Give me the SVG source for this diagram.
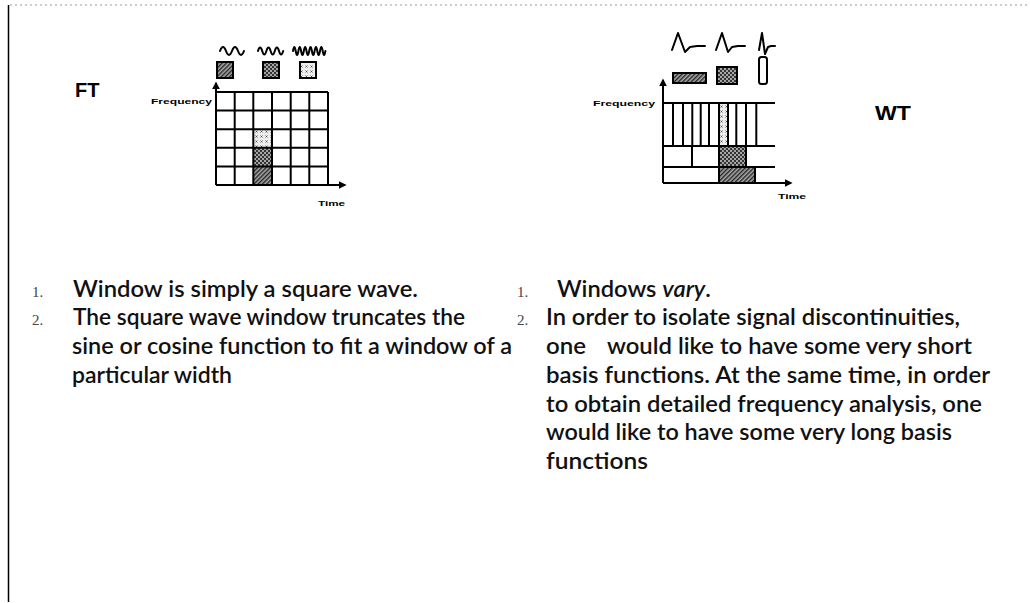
<svg xmlns="http://www.w3.org/2000/svg" width="1030" height="603" viewBox="0 0 1030 603">
<style>
.grid{stroke:#000;stroke-width:2;fill:none}
.axis{stroke:#000;stroke-width:2;fill:none}
.wave{stroke:#000;stroke-width:2;fill:none;stroke-linejoin:round;stroke-linecap:round}
.lbl{font-family:"Liberation Sans",Arial,sans-serif;font-weight:bold;font-size:8px;fill:#000}
.big{font-family:"Liberation Sans",Arial,sans-serif;font-weight:bold;font-size:20px;fill:#000}
.txt{font-family:Lato,"Open Sans",sans-serif;font-size:23px;fill:#111;font-weight:600}
.num{font-family:"Liberation Serif",serif;font-size:15px;fill:#444}
.box{stroke:#000;stroke-width:2}
</style>
<defs>
<pattern id="pDark" width="3" height="3" patternUnits="userSpaceOnUse" patternTransform="rotate(45)"><rect width="3" height="3" fill="#aaa"/><rect width="1.4" height="3" fill="#222"/></pattern>
<pattern id="pMed" width="4" height="4" patternUnits="userSpaceOnUse"><rect width="4" height="4" fill="#333"/><circle cx="1" cy="1" r="0.9" fill="#ddd"/><circle cx="3" cy="3" r="0.9" fill="#ddd"/></pattern>
<pattern id="pLight" width="5" height="5" patternUnits="userSpaceOnUse"><rect width="5" height="5" fill="#eee"/><path d="M0.5,0.5 l2,2 M2.5,0.5 l-2,2" stroke="#333" stroke-width="0.7"/></pattern>
<marker id="arr" viewBox="0 0 10 10" refX="8" refY="5" markerWidth="4" markerHeight="4" orient="auto"><path d="M0,0 L10,5 L0,10 z" fill="#000"/></marker>
</defs>
<rect width="1030" height="603" fill="#fff"/>
<g id="frame">
<line x1="10" y1="5" x2="1030" y2="5" stroke="#999" stroke-width="1" stroke-dasharray="2,3"/>
<line x1="8.5" y1="5" x2="8.5" y2="602" stroke="#000" stroke-width="1.5"/>
</g>

<g id="ft">
<text class="big" x="75" y="97">FT</text>
<path class="wave" d="M220,51 q3,-8 6,0 t6,0 t6,0 t6,0"/>
<path class="wave" d="M258,51 q2.1,-7 4.2,0 t4.2,0 t4.2,0 t4.2,0 t4.2,0 t4.2,0"/>
<path class="wave" d="M293,51 q1.35,-8 2.7,0 t2.7,0 t2.7,0 t2.7,0 t2.7,0 t2.7,0 t2.7,0 t2.7,0 t2.7,0 t2.7,0 t2.7,0 t2.7,0"/>
<rect class="box" x="217" y="62" width="16" height="16" fill="url(#pDark)"/>
<rect class="box" x="263" y="62" width="16" height="16" fill="url(#pMed)"/>
<rect class="box" x="300" y="62" width="16" height="16" fill="url(#pLight)"/>
<text class="lbl" x="151" y="104" textLength="61" lengthAdjust="spacingAndGlyphs">Frequency</text>
<rect x="253.3" y="129.2" width="18.7" height="18.6" fill="url(#pLight)"/>
<rect x="253.3" y="147.8" width="18.7" height="18.6" fill="url(#pMed)"/>
<rect x="253.3" y="166.4" width="18.7" height="18.6" fill="url(#pDark)"/>
<path class="grid" d="M216,92 H328 M216,110.6 H328 M216,129.2 H328 M216,147.8 H328 M216,166.4 H328 M234.7,92 V185 M253.3,92 V185 M272,92 V185 M290.7,92 V185 M309.3,92 V185 M328,92 V185"/>
<text class="lbl" x="318" y="206" textLength="27" lengthAdjust="spacingAndGlyphs">Time</text>
</g>

<g id="wt">
<path class="wave" d="M672,50 L678,33 L685,52 L690,47 L697,46 L705,46"/>
<path class="wave" d="M716,50 L722,33 L728,52 L732,47 L738,46 L745,46"/>
<path class="wave" d="M759,50 L762,33 L765,54 L768,47 L771,46 L775,46"/>
<rect class="box" x="673" y="73" width="33" height="10" fill="url(#pDark)"/>
<rect class="box" x="717" y="67" width="20" height="17" fill="url(#pMed)"/>
<rect class="box" x="759" y="57" width="8" height="27" rx="2.5" fill="#fff"/>
<text class="lbl" x="593" y="106" textLength="62" lengthAdjust="spacingAndGlyphs">Frequency</text>
<rect x="719" y="103" width="9" height="43" fill="url(#pLight)"/>
<rect x="719" y="146" width="27" height="21" fill="url(#pMed)"/>
<rect x="719" y="167" width="36" height="16" fill="url(#pDark)"/>
<path class="grid" d="M663,103 H775 M663,146 H775 M663,167 H775 M673,103 V146 M683,103 V146 M692.3,103 V146 M700.7,103 V146 M709,103 V146 M719,103 V183 M728,103 V146 M736.3,103 V146 M746,103 V167 M756.3,103 V146 M692,146 V167 M755,167 V183"/>
<text class="lbl" x="778" y="199" textLength="28" lengthAdjust="spacingAndGlyphs">Time</text>
<text class="big" x="875" y="120" textLength="36" lengthAdjust="spacingAndGlyphs">WT</text>
</g>

<g id="connectors">
<path class="axis" d="M216,185 V83" marker-end="url(#arr)"/>
<path class="axis" d="M216,185 H345" marker-end="url(#arr)"/>
<path class="axis" d="M663,183 V80" marker-end="url(#arr)"/>
<path class="axis" d="M663,183 H791" marker-end="url(#arr)"/>
</g>

<g id="ft-text">
<text class="num" x="32" y="297">1.</text>
<text class="txt" x="73" y="297" textLength="345" lengthAdjust="spacingAndGlyphs">Window is simply a square wave.</text>
<text class="num" x="32" y="325">2.</text>
<text class="txt" x="73" y="325" textLength="392" lengthAdjust="spacingAndGlyphs">The square wave window truncates the</text>
<text class="txt" x="72" y="354" textLength="440" lengthAdjust="spacingAndGlyphs">sine or cosine function to fit a window of a</text>
<text class="txt" x="72" y="383" textLength="160" lengthAdjust="spacingAndGlyphs">particular width</text>
</g>

<g id="wt-text">
<text class="num" x="517" y="297">1.</text>
<text class="txt" x="557" y="297" textLength="154" lengthAdjust="spacingAndGlyphs">Windows <tspan font-style="italic">vary</tspan>.</text>
<text class="num" x="517" y="325">2.</text>
<text class="txt" x="546" y="325" textLength="414" lengthAdjust="spacingAndGlyphs">In order to isolate signal discontinuities,</text>
<text class="txt" x="546" y="354" textLength="40" lengthAdjust="spacingAndGlyphs">one</text>
<text class="txt" x="607" y="354" textLength="365" lengthAdjust="spacingAndGlyphs">would like to have some very short</text>
<text class="txt" x="546" y="383" textLength="444" lengthAdjust="spacingAndGlyphs">basis functions.  At the same time, in order</text>
<text class="txt" x="546" y="412" textLength="436" lengthAdjust="spacingAndGlyphs">to obtain detailed frequency analysis, one</text>
<text class="txt" x="546" y="440" textLength="406" lengthAdjust="spacingAndGlyphs">would like to have some very long basis</text>
<text class="txt" x="546" y="469" textLength="102" lengthAdjust="spacingAndGlyphs">functions</text>
</g>
</svg>
